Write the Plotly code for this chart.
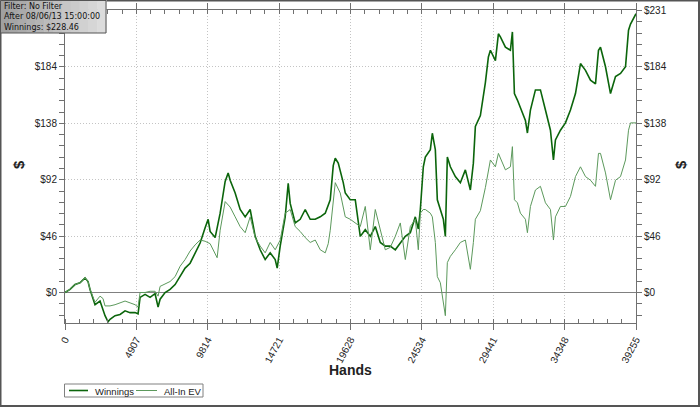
import plotly.graph_objects as go

# ---- data ----
win_hands = [0, 344, 688, 1032, 1376, 1583, 1720, 2064, 2408, 2615, 2752, 2959, 3096, 3441, 3785, 4129, 4473, 4817, 5023,
             5161, 5505, 5849, 6193, 6399, 6537, 6881, 7225, 7569, 7913, 8257, 8601, 8945, 9289, 9633, 9840, 9977, 10322,
             10666, 11010, 11216, 11354, 11698, 12042, 12386, 12730, 13074, 13418, 13762, 14106, 14450, 14588, 14794,
             15138, 15345, 15482, 15826, 16170, 16514, 16858, 17203, 17547, 17891, 18235, 18441, 18579, 18785, 18923,
             19129, 19267, 19611, 19955, 20299, 20643, 20987, 21331, 21675, 22019, 22363, 22707, 23051, 23395, 23739,
             24084, 24290, 24428, 24634, 24772, 25116, 25253, 25460, 25597, 25804, 26010, 26148, 26285, 26492, 26836,
             27180, 27524, 27868, 28074, 28212, 28556, 28900, 29107, 29245, 29589, 29795, 29933, 30277, 30621, 30758,
             30896, 31102, 31309, 31653, 31790, 31997, 32341, 32685, 33029, 33373, 33579, 33717, 34061, 34405, 34749,
             35094, 35438, 35782, 36126, 36470, 36676, 36814, 37158, 37502, 37846, 38190, 38534, 38741, 38878, 39255]
win_vals = [0, 2.5, 6.5, 8, 12, 9, 2.5, -10, -7, -14, -19, -24, -22, -19, -18, -15, -16.5, -16.5, -17.5,
            -4, -1.5, -4, -1, -12, -5.5, 0, 2.5, 6.5, 13, 20, 24, 32, 40.5, 53, 60, 50, 45,
            65, 91, 98, 92, 81.5, 68, 62, 68, 46, 35, 27, 32.5, 27, 20, 38,
            62, 89.5, 73, 57, 60, 68, 60, 60, 62, 65, 76, 104, 110, 106, 100,
            90, 81.5, 76, 76, 46, 51.5, 46, 54, 41, 38, 38, 35, 41, 46, 49,
            62, 52, 68, 103, 111, 117, 130.5, 117, 76, 68, 60, 46, 111, 103, 95,
            90, 100.5, 84, 106, 136, 145, 172, 193, 198.5, 190, 212, 209.5, 201, 198.5, 213.5,
            163, 157.7, 152, 141, 130.7, 149.5, 166, 166, 149.5, 133, 108.6, 125, 133, 139, 149.5,
            163, 187.6, 182, 174, 171, 198.5, 201, 185, 163, 177, 179.5, 185, 215, 220, 228.46]

ev_hands = [0, 344, 688, 1032, 1376, 1583, 1720, 2064, 2408, 2615, 2752, 3096, 3441, 3785, 4129, 4473, 4817, 5023,
            5161, 5505, 5849, 6193, 6399, 6537, 6881, 7225, 7569, 7913, 8257, 8601, 8945, 9289, 9633, 9977, 10459,
            10666, 11010, 11354, 11698, 12042, 12386, 12730, 13074, 13418, 13762, 14106, 14450, 14794, 15138, 15482,
            15826, 16170, 16514, 16858, 17203, 17547, 17891, 18097, 18235, 18579, 18923, 19129, 19267, 19611, 19955,
            20299, 20643, 20987, 21331, 21675, 22019, 22363, 22707, 23051, 23395, 23739, 24084, 24290, 24428, 24634,
            24772, 25116, 25253, 25460, 25597, 25804, 26010, 26148, 26285, 26492, 26836, 27180, 27524, 27868, 28074,
            28212, 28556, 28900, 29245, 29589, 29795, 29933, 30277, 30621, 30758, 30896, 31102, 31309, 31653, 31790,
            31997, 32341, 32685, 33029, 33373, 33579, 33717, 34061, 34405, 34749, 35094, 35438, 35782, 36126, 36470,
            36676, 36814, 37158, 37502, 37846, 38190, 38534, 38741, 38878, 39255]
ev_vals = [0, 2.5, 6.5, 8, 12, 9, 2.5, -8, -3, -5, -11, -11, -10, -8.5, -7, -8.5, -10, -12,
           0, 0, 1, 1, -3, 5, 7, 9, 13, 21.5, 27, 34, 39, 43, 42, 40, 28.5,
           51, 74.5, 70, 62, 54, 49, 62, 45, 38, 32.5, 41, 35, 43, 65, 68,
           54, 50, 45, 41, 43, 35, 32.5, 40, 51, 90, 81.5, 68, 62, 60, 57,
           54, 70.5, 35, 68, 51.5, 35, 37, 46, 57, 27, 54, 60, 35, 65, 68,
           68, 65, 62, 41, 13, 8, -8, -19, 24.5, 29.6, 35, 41, 43, 19, 41,
           60, 67, 86, 108.6, 103, 114, 110, 100.5, 103, 119.5, 76, 73.5, 65, 60, 49,
           70.5, 84, 87, 73.5, 68, 43, 62, 70.5, 70.5, 78.7, 95, 103, 95, 92, 87,
           114, 114, 98, 76, 92, 95, 108.6, 133, 139, 139]

series_names = ["Winnings", "All-In EV"]
series_colors = ["#0b650b", "#5c995c"]

x_tickvals = [0, 4907, 9814, 14721, 19628, 24534, 29441, 34348, 39255]
y_tickvals = [0, 46.2, 92.4, 138.6, 184.8, 231]
y_ticktext = ["$0", "$46", "$92", "$138", "$184", "$231"]

Y_RANGE = [-25, 231.5]
X_RANGE = [0, 39255]

FONT = "Liberation Sans, Arial, sans-serif"
BOXFONT = "DejaVu Sans, Verdana, sans-serif"
GRID = "#c4c4c4"
AXIS = "#707070"
DOTS = "1px,2px"

fig = go.Figure()
fig.add_trace(go.Scatter(x=win_hands, y=win_vals, mode="lines", name=series_names[0],
                         line=dict(color=series_colors[0], width=1.6)))
fig.add_trace(go.Scatter(x=ev_hands, y=ev_vals, mode="lines", name=series_names[1],
                         line=dict(color=series_colors[1], width=1)))
# anchor trace for the right-hand axis
fig.add_trace(go.Scatter(x=[0], y=[0], mode="lines", yaxis="y2", showlegend=False,
                         hoverinfo="skip", line=dict(color="rgba(0,0,0,0)")))

tickfont = dict(family=FONT, size=10, color="#222")

fig.update_layout(
    width=700, height=407,
    margin=dict(l=65, r=64, t=10, b=84, autoexpand=False),
    paper_bgcolor="white", plot_bgcolor="white",
    font=dict(family=FONT, color="#222"),
    showlegend=False,
    xaxis=dict(range=X_RANGE, tickmode="array", tickvals=x_tickvals, automargin=False,
               ticktext=[str(v) for v in x_tickvals], tickangle=-62, tickfont=dict(family=FONT, size=10, color="#222"),
               showgrid=True, gridcolor=GRID, griddash=DOTS, gridwidth=1,
               showline=True, linecolor=AXIS, linewidth=1, mirror="ticks",
               ticks="outside", ticklen=6, tickcolor=AXIS,
               minor=dict(tick0=0, dtick=39255 / 40, ticks="inside", ticklen=4, tickcolor=AXIS, showgrid=False),
               zeroline=False),
    yaxis=dict(range=Y_RANGE, tickmode="array", tickvals=y_tickvals, ticktext=y_ticktext, automargin=False,
               tickfont=tickfont, showgrid=True, gridcolor=GRID, griddash=DOTS, gridwidth=1,
               showline=True, linecolor=AXIS, linewidth=1,
               ticks="outside", ticklen=5, tickcolor=AXIS,
               minor=dict(tick0=0, dtick=9.24, ticks="outside", ticklen=5, tickcolor=AXIS, showgrid=False),
               zeroline=True, zerolinecolor="#808080", zerolinewidth=1),
    yaxis2=dict(range=Y_RANGE, overlaying="y", side="right", tickmode="array", automargin=False,
                tickvals=y_tickvals, ticktext=y_ticktext, tickfont=tickfont,
                showgrid=False, zeroline=False, showline=True, linecolor=AXIS, linewidth=1,
                ticks="outside", ticklen=5, tickcolor=AXIS,
                minor=dict(tick0=0, dtick=9.24, ticks="outside", ticklen=5, tickcolor=AXIS)),
)

pw, ph = 571.0, 313.0


def px_x(xp):
    return (xp - 65) / pw


def px_y(yp):
    return 1 - (yp - 10) / ph


# x-axis title
fig.add_annotation(x=px_x(350), y=px_y(370), xref="paper", yref="paper", text="<b>Hands</b>",
                   xanchor="center", yanchor="middle",
                   showarrow=False, font=dict(family=FONT, size=14, color="#222"))

# "$" axis titles
for xp in (18, 680):
    fig.add_annotation(x=px_x(xp), y=px_y(165), xref="paper", yref="paper", text="<b>$</b>", showarrow=False,
                       xanchor="center", yanchor="middle",
                       textangle=-90, font=dict(family=FONT, size=15, color="#222"))

# legend box (drawn as a compact key below the plot)
fig.add_shape(type="rect", xref="paper", yref="paper",
              x0=px_x(64.5), x1=px_x(203), y0=px_y(397), y1=px_y(384),
              line=dict(color="#808080", width=1), fillcolor="white")
key_line_x = [(69, 88), (136, 157)]
key_text_x = [94, 163]
for k in range(2):
    fig.add_shape(type="line", xref="paper", yref="paper",
                  x0=px_x(key_line_x[k][0]), x1=px_x(key_line_x[k][1]), y0=px_y(390.5), y1=px_y(390.5),
                  line=dict(color=series_colors[k], width=1.6 if k == 0 else 1))
    fig.add_annotation(x=px_x(key_text_x[k]), y=px_y(391), xref="paper", yref="paper",
                       xanchor="left", yanchor="middle", showarrow=False, borderpad=0,
                       text=series_names[k], font=dict(family=FONT, size=9.5, color="#222"))

# outer frame
fig.add_shape(type="rect", xref="paper", yref="paper",
              x0=px_x(0.5), x1=px_x(699), y0=px_y(406), y1=px_y(0.5),
              line=dict(color="#555", width=2), fillcolor="rgba(0,0,0,0)", layer="above")

# filter info box (gradient imitated with strips)
box_x0, box_x1, box_y1 = 0, 106, 33
strips = 12
for i in range(strips):
    g = int(160 + (220 - 160) * i / (strips - 1))
    fig.add_shape(type="rect", xref="paper", yref="paper",
                  x0=px_x(box_x0 + (box_x1 - box_x0) * i / strips),
                  x1=px_x(box_x0 + (box_x1 - box_x0) * (i + 1) / strips) + 0.001,
                  y0=px_y(box_y1), y1=px_y(0),
                  line=dict(width=0), fillcolor=f"rgb({g},{g},{g})", layer="above")
fig.add_shape(type="rect", xref="paper", yref="paper",
              x0=px_x(0.5), x1=px_x(box_x1), y0=px_y(box_y1), y1=px_y(0.5),
              line=dict(color="#555", width=1), fillcolor="rgba(0,0,0,0)", layer="above")
info_lines = ["Filter: No Filter", "After 08/06/13 15:00:00", "Winnings: $228.46"]
fig.add_annotation(x=px_x(3), y=px_y(1), xref="paper", yref="paper",
                   xanchor="left", yanchor="top", align="left", showarrow=False, borderpad=0,
                   text="<br>".join(info_lines), font=dict(family=BOXFONT, size=8, color="#111"))

fig.write_html("out.html", config={"displayModeBar": False},
               post_script="document.body.style.margin='0';")
